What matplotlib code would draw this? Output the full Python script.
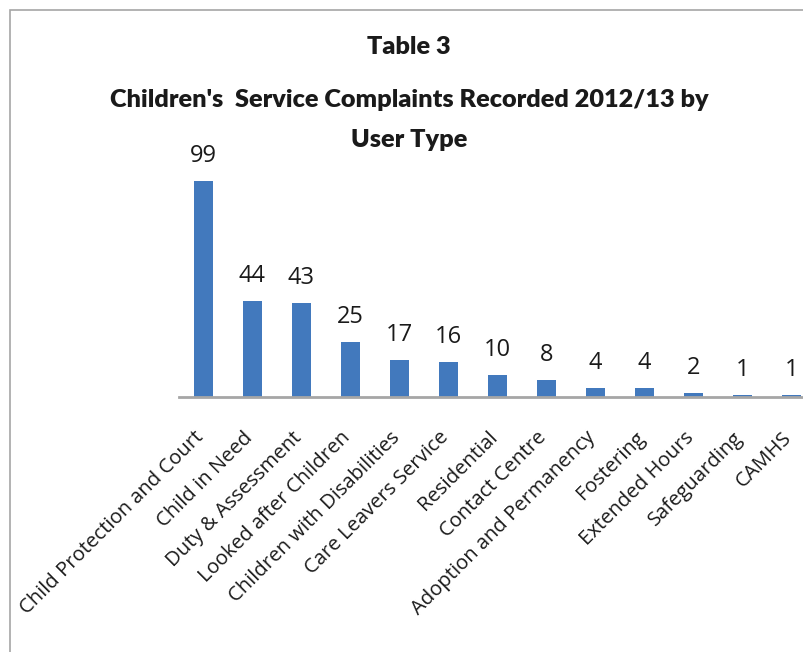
import matplotlib.pyplot as plt
from matplotlib.patches import Rectangle
from matplotlib.transforms import ScaledTranslation

# ---------------------------------------------------------------------------
# Data
# ---------------------------------------------------------------------------

CATEGORIES = [
    "Child Protection and Court", "Child in Need", "Duty & Assessment",
    "Looked after Children", "Children with Disabilities",
    "Care Leavers Service", "Residential", "Contact Centre",
    "Adoption and Permanency", "Fostering", "Extended Hours",
    "Safeguarding", "CAMHS",
]
COMPLAINTS = [99, 44, 43, 25, 17, 16, 10, 8, 4, 4, 2, 1, 1]

TITLE_LINES = [
    "Table 3",
    "Children's  Service Complaints Recorded 2012/13 by",
    "User Type",
]

BAR_COLOR = "#4279bd"
AXIS_COLOR = "#a6a6a6"
TITLE_FONT = ["Lato", "DejaVu Sans"]
BODY_FONT = ["Open Sans", "DejaVu Sans"]

W, H = 804, 652


def main():
    fig = plt.figure(figsize=(W / 100, H / 100), dpi=100)

    # chart area border (runs off the right and bottom edges)
    fig.patches.append(Rectangle(
        (10 / W, -0.1), 1.2, (H - 10) / H + 0.1,
        transform=fig.transFigure, fill=False,
        edgecolor=AXIS_COLOR, linewidth=1.2,
    ))

    # plot area in pixel terms: x from 179 px, baseline at 397 px from top
    left, base = 179, 397
    slot = 49
    ax = fig.add_axes([left / W, (H - base) / H,
                       slot * len(CATEGORIES) / W, 240 / H])
    x = range(len(CATEGORIES))
    ax.bar(x, COMPLAINTS, width=0.4, color=BAR_COLOR)
    ax.set_xlim(-0.5, len(CATEGORIES) - 0.5)
    ax.set_ylim(0, 110)

    for xi, v in zip(x, COMPLAINTS):
        ax.annotate(str(v), (xi, v), xytext=(0, 19), textcoords="offset pixels",
                    ha="center", va="baseline", fontsize=17,
                    family=BODY_FONT, color="#1a1a1a")

    for s in ("top", "left", "right"):
        ax.spines[s].set_visible(False)
    ax.spines["bottom"].set_color(AXIS_COLOR)
    ax.spines["bottom"].set_linewidth(2)
    ax.set_yticks([])
    ax.set_xticks(list(x))
    ax.tick_params(axis="x", length=0, pad=22)
    ax.set_xticklabels(CATEGORIES, rotation=45, ha="right",
                       rotation_mode="anchor", fontsize=14.6,
                       family=BODY_FONT, color="#1a1a1a")
    shift = ScaledTranslation(-10 / 100, 0, fig.dpi_scale_trans)
    for lbl in ax.get_xticklabels():
        lbl.set_transform(lbl.get_transform() + shift)

    # title block
    ys = [47, 100, 140]
    for text, y in zip(TITLE_LINES, ys):
        fig.text(409 / W, 1 - y / H, text, ha="center", va="center",
                 fontsize=18.2, fontweight="heavy", family=TITLE_FONT,
                 color="#1a1a1a")

    fig.savefig("out.png", dpi=100)
    plt.close(fig)


if __name__ == "__main__":
    main()
